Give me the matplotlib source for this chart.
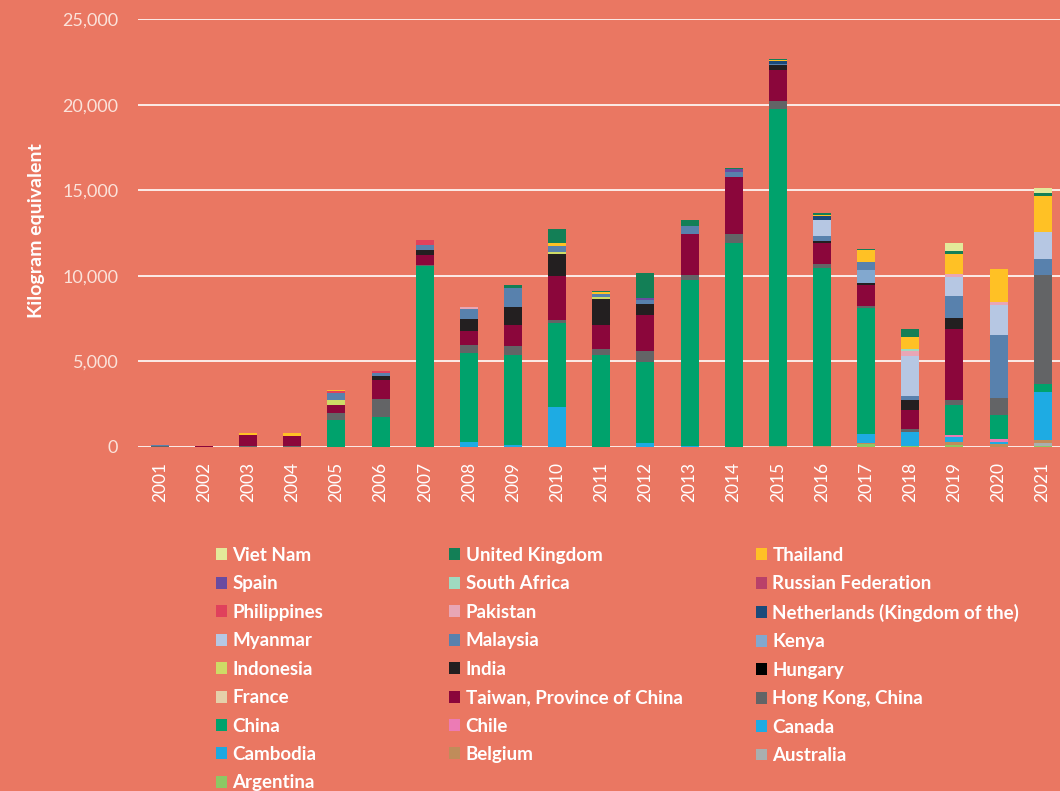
import numpy as np
import matplotlib.pyplot as plt
from matplotlib.patches import Patch

plt.rcParams['font.family'] = ['Lato', 'DejaVu Sans']

# ---- data (kilogram equivalent), 2001-2021 ----
years = [str(y) for y in range(2001, 2022)]

#               01   02   03   04   05    06    07     08    09    10    11    12    13    14     15     16     17    18    19    20    21
argentina   = [  0,   0,   0,   0,   0,    0,    0,     0,    0,    0,    0,    0,    0,    0,     0,     0,   155,   60,  100,    0,   60]
australia   = [  0,   0,   0,   0,   0,    0,    0,     0,    0,    0,    0,    0,    0,    0,     0,     0,     0,    0,    0,    0,  175]
belgium     = [  0,   0,   0,   0,   0,    0,    0,     0,    0,    0,    0,    0,    0,    0,    80,    80,    80,    0,  195,  195,  195]
cambodia    = [  0,   0,   0,   0,   0,    0,    0,     0,    0,    0,    0,    0,    0,    0,     0,     0,     0,    0,    0,    0,    0]
canada      = [  0,   0,   0,   0,   0,    0,    0,   290,  100, 2340,    0,  250,   80,    0,     0,     0,   545,  820,  290,  100, 2785]
chile       = [  0,   0,   0,   0,   0,    0,    0,     0,    0,    0,    0,    0,    0,    0,     0,     0,     0,    0,  100,  195,    0]
china       = [  0,   0,   0,   0, 1600, 1750, 10560, 5200, 5300, 4900, 5400, 4710, 9700, 11920, 19670, 10380, 7340,    0, 1750, 1400,  487]
hong_kong   = [ 50,   0,  30,  30,  390, 1030,  100,   470,  490,  195,  350,  640,  290,  545,   485,   250,   100,  155,  290,  990, 6365]
taiwan      = [  0,  60, 650, 640,  490, 1110,  580,   800, 1210, 2570, 1380, 2120, 2375, 3290,  1770,  1210,  1227, 1110, 4190,    0,    0]
france      = [  0,   0,   0,   0,   0,    0,    0,     0,    0,    0,    0,    0,    0,    0,     0,     0,     0,    0,    0,    0,    0]
hungary     = [  0,   0,   0,   0,   0,    0,    0,     0,    0,    0,    0,    0,    0,    0,     0,     0,     0,    0,    0,    0,    0]
india       = [  0,   0,   0,   0,   0,  230,  290,   740, 1090, 1265, 1520,  640,    0,    0,   290,   100,   136,  585,  625,    0,    0]
indonesia   = [  0,   0,   0,   0,  290,    0,    0,     0,    0,  117,  117,    0,    0,    0,     0,     0,     0,    0,    0,    0,    0]
kenya       = [  0,   0,   0,   0,   0,    0,    0,     0,    0,    0,    0,    0,    0,    0,     0,     0,   740,    0,    0,    0,    0]
malaysia    = [ 50,   0,   0,   0,  390,  195,  270,   580, 1070,  370,  195,  250,  450,  290,   100,   330,   487,  234, 1285, 3640,  895]
myanmar     = [  0,   0,   0,   0,   0,    0,    0,     0,    0,    0,    0,    0,    0,    0,     0,   935,     0, 2355, 1110, 1750, 1597]
netherlands = [  0,   0,   0,   0,   0,    0,    0,     0,    0,    0,    0,    0,    0,    0,   155,   195,     0,    0,    0,    0,    0]
pakistan    = [  0,   0,   0,   0,   0,    0,    0,    80,    0,    0,    0,    0,    0,    0,     0,     0,     0,  290,  155,  195,    0]
philippines = [  0,   0,   0,   0,  120,  115,  310,     0,    0,    0,    0,    0,    0,    0,     0,     0,     0,    0,    0,    0,    0]
russia      = [  0,  20,   0,   0,   0,    0,    0,     0,    0,    0,    0,    0,    0,    0,     0,     0,     0,    0,    0,    0,    0]
south_africa= [  0,   0,   0,   0,   0,    0,    0,     0,    0,    0,    0,    0,    0,    0,     0,     0,     0,  100,    0,    0,    0]
spain       = [  0,   0,   0,   0,   0,    0,    0,     0,    0,    0,    0,  100,    0,  175,     0,     0,     0,    0,    0,    0,    0]
thailand    = [  0,   0, 130, 150,   60,    0,    0,     0,    0,  155,  100,    0,    0,    0,    60,   100,   680,  720, 1210, 1950, 2083]
uk          = [  0,   0,   0,   0,   0,    0,    0,     0,  230,  820,   80, 1460,  390,  100,    55,   100,   100,  450,  155,    0,  195]
viet_nam    = [  0,   0,   0,   0,   0,    0,    0,     0,    0,    0,    0,    0,    0,    0,     0,     0,     0,    0,  485,    0,  310]

# stacking order, bottom to top
series = [
    ("Argentina", argentina, "#8CC864"),
    ("Australia", australia, "#A9AFAF"),
    ("Belgium", belgium, "#C08C5A"),
    ("Cambodia", cambodia, "#1EA8E0"),
    ("Canada", canada, "#1EABE3"),
    ("Chile", chile, "#EC7BB5"),
    ("China", china, "#00A26C"),
    ("Hong Kong, China", hong_kong, "#636466"),
    ("Taiwan, Province of China", taiwan, "#8B063B"),
    ("France", france, "#E5D0AA"),
    ("Hungary", hungary, "#000000"),
    ("India", india, "#231F20"),
    ("Indonesia", indonesia, "#CEDB66"),
    ("Kenya", kenya, "#82A8CF"),
    ("Malaysia", malaysia, "#5881AD"),
    ("Myanmar", myanmar, "#B6C7E3"),
    ("Netherlands (Kingdom of the)", netherlands, "#1B4A7A"),
    ("Pakistan", pakistan, "#E8A6B5"),
    ("Philippines", philippines, "#E0415C"),
    ("Russian Federation", russia, "#B94069"),
    ("South Africa", south_africa, "#9FDAC0"),
    ("Spain", spain, "#6A4BA0"),
    ("Thailand", thailand, "#FFC125"),
    ("United Kingdom", uk, "#137F56"),
    ("Viet Nam", viet_nam, "#E3E99A"),
]

bg = "#EA7762"

fig = plt.figure(figsize=(10.6, 7.91), dpi=100, facecolor=bg)
ax = fig.add_axes([0.130, 0.4349, 0.8745, 0.541])
ax.set_facecolor(bg)

x = np.arange(len(years))
bottom = np.zeros(len(years))
for name, vals, col in series:
    vals = np.array(vals, dtype=float)
    ax.bar(x, vals, width=0.41, bottom=bottom, color=col, zorder=3)
    bottom += vals

ax.set_xlim(-0.5, len(years) - 0.5)
ax.set_ylim(0, 25000)
ax.set_yticks(range(0, 25001, 5000))
ax.set_yticklabels([f"{v:,}" for v in range(0, 25001, 5000)])
ax.set_xticks(x)
ax.set_xticklabels(years, rotation=90)
ax.grid(axis="y", color="white", linewidth=1.2, zorder=0)
ax.tick_params(axis="y", length=0, pad=14, labelsize=13, labelcolor="#FBE3DB")
ax.tick_params(axis="x", length=0, pad=11, labelsize=12.5, labelcolor="white")
for s in ax.spines.values():
    s.set_visible(False)

ax.set_ylabel("Kilogram equivalent", color="white", fontsize=14, fontweight="bold")
ax.yaxis.set_label_coords(-0.100, 0.505)

# legend: three columns, filled row by row in reverse stacking order
shown = series[::-1]
col_x = [0.2038, 0.4236, 0.7132]
for k in range(3):
    part = shown[k::3]
    handles = [Patch(facecolor=c, edgecolor="none") for _, _, c in part]
    labels = [n for n, _, _ in part]
    leg = fig.legend(handles, labels, loc="upper left", bbox_to_anchor=(col_x[k], 0.3085),
                     frameon=False, borderpad=0, borderaxespad=0,
                     handlelength=0.6, handleheight=0.6, handletextpad=0.28,
                     labelspacing=0.61, prop={"size": 13.5, "weight": "bold"})
    for t in leg.get_texts():
        t.set_color("white")

fig.savefig("out.png", dpi=100, facecolor=bg)
